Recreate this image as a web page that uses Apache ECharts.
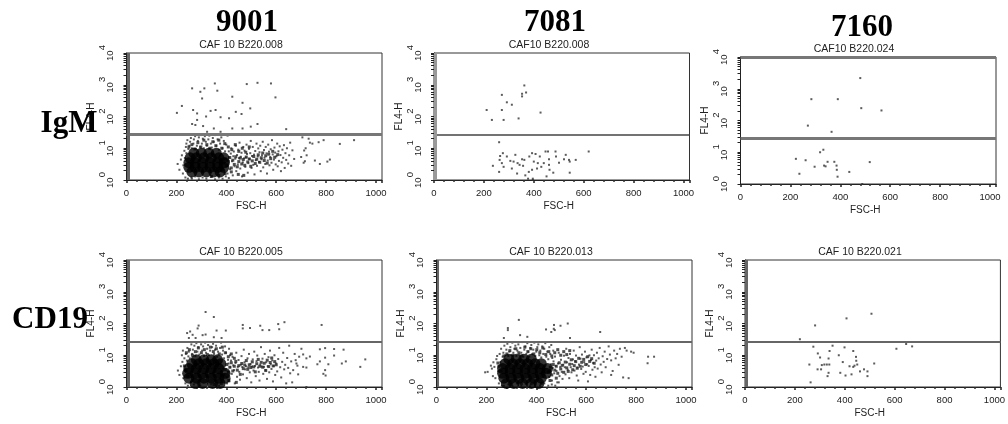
<!DOCTYPE html>
<html><head><meta charset="utf-8">
<style>html,body{margin:0;padding:0;background:#fff}#c{width:1008px;height:424px;filter:blur(0.45px)}</style>
<script src="https://cdn.jsdelivr.net/npm/echarts@6/dist/echarts.min.js"></script></head>
<body><div id="c"></div>
<script>
const columnHeads=['9001','7081','7160'];
const rowHeads=['IgM','CD19'];
const panelTitles=['CAF 10 B220.008','CAF10 B220.008','CAF10 B220.024','CAF 10 B220.005','CAF 10 B220.013','CAF 10 B220.021'];
const gateValues=[28,26,27.5,27,27,27];
const xTickLabelStep=200;

const events9001IgM=[[263,770],[296,600],[312,770],[303,370],[354,1100],[364,650],[482,1050],[525,1150],[579,1100],[424,420],[465,270],[597,400],[222,215],[202,130],[267,160],[283,125],[337,150],[357,160],[438,140],[461,120],[496,180],[377,95],[411,88],[319,100],[283,78],[263,58],[276,54],[307,50],[350,42],[424,42],[465,42],[498,48],[525,58],[640,40],[323,33],[377,33],[640,28],[835,28],[983,28],
[205,3.2],[212,2.1],[218,4.4],[222,6],[226,1.6],[228,2.9],[232,8.3],[234,4.9],[236,1.2],[238,11],[240,14],[240,7],[244,18],[246,1.1],[248,9.5],[252,12],[255,16],[258,21],[260,1.2],[262,10],[268,14],[270,19],[275,24],[278,9.5],[282,12],[286,17],[290,22],[295,11],[298,26],[302,14],[306,20],[310,10],[314,24],[318,16],[322,12],[328,19],[332,25],[338,14],[342,10.5],[346,21],[350,16],[356,26],[360,12],[365,19],[370,9],[375,14],[380,22],[385,10],[390,17],[395,8],[400,13],[405,25],[410,8],
[262,1.1],[275,1.3],[290,1.05],[305,1.2],[320,1.1],[340,1.25],[355,1.05],[370,1.2],[385,1.1],[398,1.3],[410,1.15],
[405,1.6],[408,3.3],[412,5.2],[415,2.2],[418,6.8],[420,10],[423,3.9],[426,1.4],[428,5.6],[430,7.9],[433,2.7],[436,4.7],[438,12],[440,1.9],[443,6.1],[446,3.1],[448,9],[451,4.9],[453,15],[456,2.3],[458,5.4],[461,7.2],[463,1.3],[466,3.6],[468,11],[471,4.8],[473,8.4],[476,2.6],[478,5.1],[481,13],[483,6.6],[486,1.7],[488,3.4],[491,9.6],[493,4.6],[496,7],[498,17],[501,2.4],[503,5.7],[506,11],[508,3],[511,6.3],[513,1.5],[516,8.2],[518,4.2],[521,14],[523,2.8],[526,5.5],[528,9.9],[531,3.7],[533,7.5],[536,12],[538,1.9],[541,4.5],[543,6],[546,16],[548,2.5],[551,8.8],[553,5],[556,3.2],[558,11],[561,6.9],[563,1.6],[566,4.1],[568,13],[571,7.8],[573,2.9],[576,5.3],[578,9.3],[581,3.5],[583,18],[586,6.4],[588,2.1],[591,4.4],[593,10.5],[596,7.3],[598,3.1],[601,5.6],[604,14],[606,2.7],[609,8],[611,4],[614,11.5],[617,6.1],[619,1.9],[622,3.6],[625,9],[628,5],[631,12.5],[634,2.4],[637,7],[640,4.3],[643,10],[648,3.3],[652,6],[656,15],[660,2.8],[665,8.6],[672,4.6],
[700,5.3],[710,3.5],[712,8.5],[718,10],[722,6],[715,3.9],[730,20],[735,15],[745,14],[755,4.1],[770,15.5],[775,3.2],[790,18],[805,3.8],[815,4.4],[855,13.7],[912,18],[705,22]];
const clump9001IgM=[[384,2.2],[390,3.4],[396,4.6],[402,2.8],[408,3.9],[414,5.1],[420,2.4],[426,4.2],[432,3.1],[438,5.4],[444,2.6],[450,3.8],[456,4.9],[462,3.2],[468,4.4],[474,2.9],[480,5.3],[486,3.7],[492,4.6],[498,2.7],[504,4],[510,5.5],[516,3.3],[522,4.5],[528,6.2],[534,3.6],[540,5],[546,7.1],[552,4.1],[558,5.8],[564,3.4],[570,6.5],[578,4.7],[586,8],[594,5.2],[606,6.3],[250,11],[262,13],[274,9.5],[286,15],[298,11],[310,18],[322,13],[334,10],[346,16],[358,12],[370,18],[382,10],[394,14],[408,11],[422,9],[436,13],[450,8],[464,10],[478,7.5],[492,11],[340,1.3],[370,1.4],[395,1.6],[420,1.8],[448,1.5],[470,1.4]];
const core9001IgM=[[262,1.8],[290,1.8],[320,1.8],[350,1.8],[375,1.8],[250,2.5],[275,2.5],[305,2.5],[335,2.5],[365,2.5],[390,2.5],[250,3.5],[275,3.5],[305,3.5],[335,3.5],[365,3.5],[392,3.5],[255,5],[280,5],[310,5],[340,5],[370,5],[390,5],[270,7],[300,7],[330,7],[360,7]];

const events7081IgM=[[362,950],[369,570],[353,520],[353,430],[272,480],[292,280],[312,235],[211,160],[272,160],[232,78],[279,78],[339,87],[427,133],
[261,15.5],[265,5.7],[263,4.3],[236,2.8],[261,1.8],[276,7],[272,3.4],[279,2.6],[292,5.5],[326,6.2],[306,4],[319,3.8],[312,2.3],[333,1.6],[335,3.4],[343,3],[353,4.5],[362,4.3],[357,2.8],[366,1.4],[380,1.8],[393,2.1],[382,5.5],[393,7],[407,6.6],[400,3.8],[416,3.4],[424,5.5],[413,2.3],[430,2.6],[440,3.4],[447,7.9],[457,7.9],[461,4.5],[461,3],[463,2.1],[451,1.3],[478,1.7],[487,7.9],[489,5.5],[501,3.5],[521,4.5],[528,6.2],[541,4.3],[544,3.8],[568,4.3],[620,7.9],[544,1.7],[396,1],[396,1.1],[377,1.1]];

const events7160IgM=[[480,2170],[284,470],[390,470],[484,245],[565,207],[270,69],[365,44],[332,12],[319,10],[222,6.2],[261,5.6],[297,3.5],[335,3.8],[341,3.6],[349,5],[376,5],[385,3.8],[386,2.8],[389,1.7],[436,2.4],[518,4.9],[236,2.1],[488,1]];

const events9001CD19=[[317,230],[350,160],[466,90],[495,72],[536,85],[545,62],[572,62],[608,96],[633,110],[612,66],[782,90],[243,50],[255,56],[285,70],[289,86],[250,35],[277,35],[305,43],[317,45],[361,60],[398,60],[350,37],[381,35],[466,70],[265,44],
[775,15.4],[796,16.8],[832,15.7],[870,15],[832,9.8],[775,6.4],[796,8.4],[765,5.2],[809,5.2],[863,5.5],[879,6.4],[957,7.4],[937,4.3],[796,3.4],[789,2.6],[798,2.3],[701,16],[708,10.6],[735,9.1],[721,8],[681,5.5],[708,4.3],[721,4.1],[688,2.5],[664,1.4],[721,1],
[206,3.3],[212,2.4],[218,4.5],[222,10],[224,6.2],[226,14],[228,1.9],[232,8],[234,3.6],[236,1.3],[238,11],[242,6.8],[244,17],[246,1.1],[248,9.2],[250,13],[254,8],[258,1.4],[260,22],[263,11],[266,15],[270,1.2],[272,20],[276,9.5],[280,24],[284,13],[288,18],[292,10.5],[296,1.1],[299,22],[303,14],[307,19],[311,9.5],[315,25],[319,12],[323,16],[327,21],[331,10],[335,14],[339,1.2],[343,18],[347,23],[351,11],[355,15],[359,20],[363,9],[367,13],[371,1.1],[375,17],[379,25],[383,10.5],[387,14],[391,8],[395,19],[399,12],[403,1.3],[407,7.2],[411,16],[415,10],
[402,2],[406,3.1],[409,5.5],[412,1.5],[416,4.2],[419,6.8],[422,2.6],[425,8.9],[428,4.8],[431,3.4],[434,1.3],[437,5.7],[440,12],[443,2.1],[446,4.3],[449,7.1],[452,3],[455,1.7],[458,5],[461,9.4],[464,4.3],[467,2.5],[470,15],[473,6],[476,3.6],[479,4.5],[482,1.9],[485,8],[488,4.2],[491,11],[494,2.9],[497,5.3],[500,1.4],[503,4.4],[506,7.4],[509,3.3],[512,13],[515,4.6],[518,2.2],[521,6.5],[524,9.8],[527,4.1],[530,3],[533,1.6],[536,5.1],[539,18],[542,4.4],[545,7.8],[548,2.6],[551,4.3],[554,11],[557,3.4],[560,6],[563,1.8],[566,4.5],[569,8.7],[572,2.9],[575,14],[578,5.2],[581,3.7],[584,6.9],[587,1.5],[590,4.6],[593,10],[596,2.4],[600,5.5],[604,3.1],[608,7.6],[612,17],[616,4.2],[620,2],[624,6.2],[628,12],[632,3.6],[636,5],[640,1.3],[644,8.2],[648,4],[652,20],[656,2.7],[660,6.4],[668,3.4],[674,11],[678,7],[685,4.7],[692,9]];
const clump9001CD19=[[390,2.4],[396,3.5],[402,5.1],[408,2.9],[414,4.2],[420,5.8],[426,3.2],[432,4.5],[438,6.4],[444,3.4],[450,4.7],[456,2.5],[462,5.5],[468,3.8],[474,4.9],[480,6.8],[486,3.6],[492,5],[498,4.1],[504,6.2],[510,4.3],[516,3],[522,5.4],[528,7.4],[534,4.5],[540,6],[546,4.2],[552,5.6],[558,3.3],[564,7],[570,4.4],[576,5.9],[582,8.2],[588,4.6],[594,6.3],[600,5],[240,12],[252,15],[264,10],[276,13],[288,17],[300,12],[312,15],[324,10.5],[336,18],[348,13],[360,16],[372,11],[384,18],[396,12],[408,9],[420,11],[432,8],[246,2.2],[238,3.3],[232,4.6],[350,1.2],[380,1.3],[410,1.6],[440,1.4]];
const core9001CD19=[[275,1.3],[305,1.3],[345,1.3],[375,1.3],[250,1.9],[280,1.9],[310,1.9],[340,1.9],[370,1.9],[395,1.9],[245,2.7],[275,2.7],[305,2.7],[335,2.7],[365,2.7],[395,2.7],[250,3.8],[280,3.8],[310,3.8],[340,3.8],[370,3.8],[262,5.4],[290,5.4],[320,5.4],[350,5.4],[378,5.4],[280,7.2],[310,7.2],[340,7.2],[365,7.2]];

const events7081CD19=[[330,130],[286,72],[286,62],[471,90],[460,54],[474,62],[497,85],[526,100],[335,43],[364,38],[270,35],[439,65],[656,54],[535,35],[470,68],
[195,2.9],[205,3],[218,4.7],[222,3.8],[226,2.2],[228,6],[232,4.3],[236,1.9],[240,7.5],[243,9.5],[247,3.1],[250,1.3],[253,11],[256,6],[259,16],[262,1.1],[265,9],[268,12],[272,20],[276,10],[280,15],[284,23],[288,9.5],[292,13],[296,18],[300,10],[304,25],[308,12],[312,16],[316,20],[320,9.5],[324,14],[328,22],[332,10.5],[336,17],[340,12],[344,26],[348,9],[352,15],[356,19],[360,11],[364,24],[368,13],[372,9],[376,17],[380,21],[384,11],[388,15],[392,25],[396,9.5],[400,13],[404,18],[408,22],[412,10],[416,14],[420,8.5],[424,19],[428,11],[432,16],[436,24],[440,9],[444,13],[448,7.5],[452,18],[456,11],[460,21],[464,8.2],[468,14],
[270,1.1],[288,1.2],[305,1.05],[322,1.3],[340,1.1],[358,1.25],[375,1.05],[395,1.2],[415,1.1],[432,1.3],[448,1.1],[462,1.2],[476,1.1],[490,1.4],
[452,2.1],[456,3.4],[459,5.2],[463,1.6],[466,4],[469,6.4],[472,2.7],[475,9.1],[478,4.6],[481,3.2],[484,1.4],[487,5.5],[490,12],[493,2.2],[496,4.3],[499,7.2],[502,3],[505,1.8],[508,5],[511,9.7],[514,4.2],[517,2.5],[520,16],[523,6],[526,3.5],[529,8.2],[532,1.9],[535,11],[538,4.2],[541,2.9],[544,5.3],[547,7.4],[550,14],[553,3.3],[556,6.5],[559,9.8],[562,2.3],[565,4.1],[568,1.6],[571,5.1],[574,18],[577,7.8],[580,3.7],[583,10.5],[586,4.4],[589,2.6],[592,6.1],[595,13],[598,3],[601,8.6],[604,5.2],[607,1.5],[610,4.6],[613,9.9],[616,2.4],[619,7],[622,15],[625,3.5],[628,5.7],[631,10],[634,4.2],[637,2.1],[640,6.8],[643,12],[646,3.8],[650,8],[654,17],[658,5.1],[662,2.9],[666,9.3],[670,6.2],[674,13],[678,4.2],[684,7.6],[690,19],[695,10.5],[700,6.9],[706,3.2],[712,14],[718,8],[724,11],[730,5],[735,16],[742,9],[748,2],[755,17],[762,14],[770,1.9],[780,13],[790,12],[700,2.4],[848,9],[872,9],[846,5.6]];
const clump7081CD19=[[450,3],[456,4.2],[462,2.4],[468,5.1],[474,3.4],[480,4.5],[486,2.7],[492,5.8],[498,3.7],[504,4.8],[510,2.9],[516,6.1],[522,4],[528,3.1],[534,5.2],[540,7.2],[546,3.5],[552,4.7],[558,6.3],[564,3.9],[570,8],[576,4.5],[582,6],[590,7.4],[598,5.1],[606,9],[614,6.4],[622,7.8],[632,5.6],[270,9.5],[282,11],[294,14],[306,10],[318,16],[330,12],[342,9.5],[354,18],[366,13],[378,16],[390,11],[402,15],[414,12],[426,17],[438,10.5],[450,13],[462,9.5],[474,12],[486,15],[498,10],[510,13],[522,10.5],[534,14],[258,3.2],[250,4.5],[246,5.7],[300,1.2],[340,1.3],[380,1.25],[420,1.3],[455,1.6],[480,1.9]];
const core7081CD19=[[280,1.3],[310,1.3],[345,1.3],[380,1.3],[410,1.3],[270,1.9],[300,1.9],[330,1.9],[360,1.9],[390,1.9],[420,1.9],[265,2.7],[295,2.7],[325,2.7],[355,2.7],[385,2.7],[415,2.7],[440,2.7],[265,3.8],[295,3.8],[325,3.8],[355,3.8],[385,3.8],[415,3.8],[445,3.8],[275,5.4],[305,5.4],[335,5.4],[365,5.4],[395,5.4],[420,5.4],[290,7.5],[320,7.5],[350,7.5],[380,7.5]];

const events7160CD19=[[507,203],[407,145],[281,87],[220,32],[274,18.6],[351,20],[399,17.7],[434,13.6],[339,13.6],[376,10],[292,11.4],[301,8.5],[335,7.9],[445,8.9],[446,6.7],[392,6.1],[450,5.1],[439,4.7],[419,4.5],[434,4.3],[518,5.5],[258,5.1],[308,4.9],[318,5.1],[328,5.1],[338,5.1],[291,3.6],[305,3.6],[335,2.8],[331,2.2],[382,2.8],[403,2.3],[427,2.5],[461,3.1],[477,3.6],[491,3.1],[491,2.2],[263,1.4],[607,16],[646,22.6],[670,19]];

const panels=[
 {events:events9001IgM,clump:clump9001IgM,core:core9001IgM,left:126.5,top:53,bar:[7,3,'#666'],gate:[3,'#777'],tx:241,ty:45},
 {events:events7081IgM,clump:[],core:[],left:434,top:53,bar:[7,3,'#999'],gate:[1.5,'#444'],tx:549,ty:45},
 {events:events7160IgM,clump:[],core:[],left:740.5,top:57,bar:null,gate:[3,'#777'],topBar:true,tx:854,ty:49},
 {events:events9001CD19,clump:clump9001CD19,core:core9001CD19,left:126.5,top:260,bar:[7,3,'#666'],gate:[2,'#666'],tx:241,ty:252},
 {events:events7081CD19,clump:clump7081CD19,core:core7081CD19,left:436.5,top:260,bar:[7,2,'#666'],gate:[2,'#666'],tx:551,ty:252},
 {events:events7160CD19,clump:[],core:[],left:745,top:260,bar:[7,3,'#666'],gate:[2,'#666'],tx:860,ty:252}
];
const font='"Liberation Sans",Arial,sans-serif', serif='"Liberation Serif","Times New Roman",serif', ink='#222';
const logTicks=[];
[1,10,100,1000].forEach(d=>{for(let m=1;m<10;m++)logTicks.push(d*m)});logTicks.push(10000);

const grids=[],xAxes=[],yAxes=[],series=[],titles=[];
panels.forEach((p,i)=>{
 grids.push({left:p.left,top:p.top,width:255.5,height:127,show:true,backgroundColor:'transparent',borderColor:'#333',borderWidth:1});
 xAxes.push({type:'value',gridIndex:i,min:0,max:1024,interval:xTickLabelStep,name:'FSC-H',nameLocation:'middle',nameGap:21,
  nameTextStyle:{fontFamily:font,fontSize:10,color:ink,padding:[0,6,0,0]},
  axisLine:{lineStyle:{color:'#222',width:1}},axisTick:{length:3,lineStyle:{color:'#222',width:1.5}},
  minorTick:{show:true,splitNumber:5,length:2,lineStyle:{color:'#333',width:1.5}},
  axisLabel:{fontFamily:font,fontSize:9.5,color:ink,margin:8,showMaxLabel:false,hideOverlap:false,formatter:v=>v>1000?'':String(v)},splitLine:{show:false}});
 yAxes.push({type:'log',logBase:10,gridIndex:i,min:1,max:10000,name:'FL4-H',nameLocation:'middle',nameGap:26,
  nameTextStyle:{fontFamily:font,fontSize:10,color:ink},
  axisLine:{lineStyle:{color:'#222',width:1}},
  axisTick:{length:3,customValues:logTicks,lineStyle:{color:'#222',width:1}},
  axisLabel:{rotate:90,margin:11,fontFamily:font,color:ink,formatter:v=>'{a|10}{b|'+Math.round(Math.log10(v))+'}',
   rich:{a:{fontFamily:font,fontSize:9.5,color:ink,padding:[8,0,0,0]},b:{fontFamily:font,fontSize:9.5,color:ink,padding:[0,0,8,0]}}},
  splitLine:{show:false}});
 const lines=[{yAxis:gateValues[i],lineStyle:{width:p.gate[0],color:p.gate[1],type:'solid'}}];
 if(p.bar)lines.push({xAxis:p.bar[0],lineStyle:{width:p.bar[1],color:p.bar[2],type:'solid'}});
 if(p.topBar)lines.push({yAxis:10000,lineStyle:{width:3,color:'#777',type:'solid'}});
 const dense=p.core.length>0;
 series.push({type:'scatter',name:panelTitles[i],xAxisIndex:i,yAxisIndex:i,data:p.events,symbol:'rect',symbolSize:2,itemStyle:{color:'#333'},animation:false,silent:true,
  markLine:{silent:true,symbol:'none',label:{show:false},animation:false,data:lines}});
 if(dense){
  series.push({type:'scatter',name:panelTitles[i]+' clumps',xAxisIndex:i,yAxisIndex:i,data:p.clump,symbol:'rect',symbolSize:3,itemStyle:{color:'#222'},animation:false,silent:true});
  series.push({type:'scatter',name:panelTitles[i]+' core',xAxisIndex:i,yAxisIndex:i,data:p.core,symbol:'circle',symbolSize:11,itemStyle:{color:'#000'},animation:false,silent:true});
 }
 titles.push({text:panelTitles[i],left:p.tx,top:p.ty,textAlign:'center',textVerticalAlign:'middle',padding:0,textStyle:{fontFamily:font,fontSize:10.5,fontWeight:'normal',color:ink}});
});
[[columnHeads[0],247,23],[columnHeads[1],555,23],[columnHeads[2],862,28],[rowHeads[0],69,124],[rowHeads[1],50,320]].forEach(h=>{
 titles.push({text:h[0],left:h[1],top:h[2],textAlign:'center',textVerticalAlign:'middle',padding:0,z:20,textStyle:{fontFamily:serif,fontSize:31,fontWeight:'bold',color:'#000'}});
});
const chart=echarts.init(document.getElementById('c'),null,{renderer:'canvas'});
chart.setOption({animation:false,backgroundColor:'#fff',title:titles,grid:grids,xAxis:xAxes,yAxis:yAxes,series});
</script></body></html>
